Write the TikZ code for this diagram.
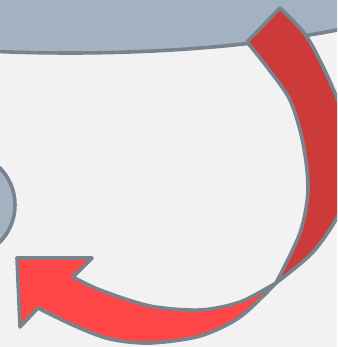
\documentclass[tikz,border=0pt]{standalone}
\usetikzlibrary{calc}
\definecolor{paper}{HTML}{F2F2F2}
\definecolor{slate}{HTML}{A3B2C1}
\definecolor{rim}{HTML}{78838E}
\definecolor{backred}{HTML}{CC3A3A}
\definecolor{frontred}{HTML}{FF4646}
\begin{document}
\begin{tikzpicture}[x=1pt,y=-1pt,line width=3.6pt,line join=round,
  blob/.style={fill=slate,draw=rim},
  band/.style={draw=rim}]
\useasboundingbox (0,0) rectangle (337,347);
\fill[paper] (0,0) rectangle (337,347);
\clip (0,0) rectangle (337,347);
% the two grey shapes
\path[blob] (70,-54) ellipse [x radius=431,y radius=107];
\path[blob] (-38,205) circle (53);
% the arrow, a band that turns over at the twist
\coordinate (twist) at (276,283);
\path[band,fill=backred] (247,42) -- (280,8)
  -- plot[smooth] coordinates {(280,8) (307,37) (331,84) (348,130) (352,170) (340,212) (313,252) (twist)}
  -- plot[smooth] coordinates {(twist) (300,233) (308,190) (303,143) (290,100) (267,67) (247,42)} -- cycle;
\path[band,fill=frontred] (twist)
  -- plot[smooth] coordinates {(twist) (240,317) (200,336) (150,343) (110,339) (75,326) (38,308)}
  -- (20,327) -- (17,258) -- (92,258) -- (73,277)
  -- plot[smooth] coordinates {(73,277) (100,290) (150,306) (200,310) (240,302) (twist)} -- cycle;
\end{tikzpicture}
\end{document}
